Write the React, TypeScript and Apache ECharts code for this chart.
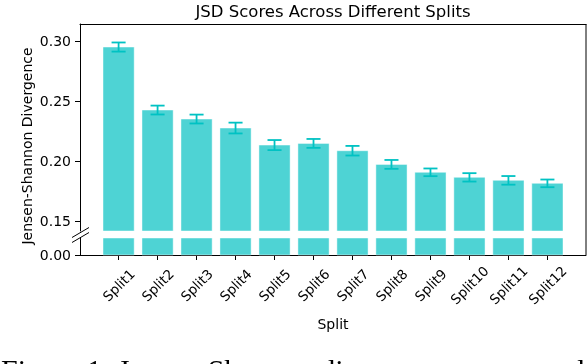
import React, { useEffect, useRef } from "react";
import * as echarts from "echarts";

const categories = ["Split1", "Split2", "Split3", "Split4", "Split5", "Split6", "Split7", "Split8", "Split9", "Split10", "Split11", "Split12"];
const jsdMeans = [0.295, 0.2425, 0.235, 0.2275, 0.2133, 0.2147, 0.2086, 0.1972, 0.1906, 0.1864, 0.1839, 0.1814];
const jsdErrors = [0.0038, 0.0037, 0.0037, 0.0045, 0.0042, 0.0037, 0.004, 0.0037, 0.0032, 0.0035, 0.0036, 0.0032];
const topTicks = [0.15, 0.2, 0.25, 0.3];
const bottomTicks = [0];
const topRange = [0.1417, 0.3142];
const bottomRange = [0, 0.0144];
const xRange = [-0.99, 11.99];

const BAR_FILL = "#4ed3d4";
const BAR_EDGE = "rgba(255,255,255,0.45)";
const ERR_COLOR = "#00c2c3";
const FONT = "DejaVu Sans";

export default function App() {
  const ref = useRef<HTMLDivElement>(null);
  useEffect(() => {
    if (!ref.current) return;
    const chart = echarts.init(ref.current, null, { renderer: "svg" });
    const idx = categories.map((_, i) => i);
    const barData = jsdMeans.map((v, i) => [i, v]);
    const errData = jsdMeans.map((v, i) => [i, v, jsdErrors[i]]);

    const renderBar = (params: any, api: any) => {
      const i = api.value(0);
      const v = api.value(1);
      const p0 = api.coord([i - 0.4, v]);
      const p1 = api.coord([i + 0.4, 0]);
      const cs = params.coordSys;
      const shape = echarts.graphic.clipRectByRect(
        { x: p0[0], y: p0[1], width: p1[0] - p0[0], height: p1[1] - p0[1] },
        { x: cs.x, y: cs.y, width: cs.width, height: cs.height }
      );
      if (!shape) return null;
      return {
        type: "rect",
        shape,
        style: { fill: BAR_FILL, stroke: BAR_EDGE, lineWidth: 1 },
      };
    };

    const renderErr = (params: any, api: any) => {
      const i = api.value(0);
      const v = api.value(1);
      const e = api.value(2);
      const hi = api.coord([i, v + e]);
      const lo = api.coord([i, v - e]);
      const capL = api.coord([i - 0.18, v])[0];
      const capR = api.coord([i + 0.18, v])[0];
      const st = { stroke: ERR_COLOR, lineWidth: 1.8 };
      return {
        type: "group",
        children: [
          { type: "line", shape: { x1: hi[0], y1: hi[1], x2: lo[0], y2: lo[1] }, style: st },
          { type: "line", shape: { x1: capL, y1: hi[1], x2: capR, y2: hi[1] }, style: st },
          { type: "line", shape: { x1: capL, y1: lo[1], x2: capR, y2: lo[1] }, style: st },
        ],
      };
    };

    const axisLine = { show: true, onZero: false, lineStyle: { color: "#000", width: 1 } };
    const labelStyle = { color: "#000", fontFamily: FONT, fontSize: 14 };

    chart.setOption({
      animation: false,
      title: {
        text: "JSD Scores Across Different Splits",
        left: 333,
        top: 3,
        padding: 0,
        textAlign: "center",
        textStyle: { fontFamily: FONT, fontSize: 16.5, fontWeight: "normal", color: "#000" },
      },
      grid: [
        { left: 80, width: 506, top: 24, height: 207, outerBoundsMode: "none", containLabel: false },
        { left: 80, width: 506, top: 238, height: 17, outerBoundsMode: "none", containLabel: false },
      ],
      xAxis: [
        {
          type: "value",
          gridIndex: 0,
          min: xRange[0],
          max: xRange[1],
          position: "top",
          axisLine,
          axisTick: { show: false },
          axisLabel: { show: false },
          splitLine: { show: false },
        },
        {
          type: "value",
          gridIndex: 1,
          min: xRange[0],
          max: xRange[1],
          position: "bottom",
          axisLine,
          axisTick: { show: true, length: 5, customValues: idx, lineStyle: { color: "#000" } },
          axisLabel: {
            customValues: idx,
            formatter: (v: number) => categories[Math.round(v)] ?? "",
            rotate: 45,
            align: "center",
            verticalAlign: "middle",
            margin: 30,
            ...labelStyle,
            fontSize: 13.5,
          },
          splitLine: { show: false },
          name: "Split",
          nameLocation: "middle",
          nameGap: 62,
          nameTextStyle: { ...labelStyle },
        },
      ],
      yAxis: [
        {
          type: "value",
          gridIndex: 0,
          min: topRange[0],
          max: topRange[1],
          axisLine,
          axisTick: { show: true, length: 5, customValues: topTicks, lineStyle: { color: "#000" } },
          axisLabel: {
            customValues: topTicks,
            formatter: (v: number) => v.toFixed(2),
            margin: 9,
            ...labelStyle,
          },
          splitLine: { show: false },
        },
        {
          type: "value",
          gridIndex: 1,
          min: bottomRange[0],
          max: bottomRange[1],
          axisLine,
          axisTick: { show: true, length: 5, customValues: bottomTicks, lineStyle: { color: "#000" } },
          axisLabel: {
            customValues: bottomTicks,
            formatter: (v: number) => v.toFixed(2),
            margin: 9,
            ...labelStyle,
          },
          splitLine: { show: false },
        },
      ],
      series: [
        { type: "custom", xAxisIndex: 0, yAxisIndex: 0, data: barData, renderItem: renderBar, z: 2 },
        { type: "custom", xAxisIndex: 1, yAxisIndex: 1, data: barData, renderItem: renderBar, z: 2 },
        { type: "custom", xAxisIndex: 0, yAxisIndex: 0, data: errData, renderItem: renderErr, z: 3 },
      ],
      graphic: [
        { type: "line", shape: { x1: 586, y1: 24, x2: 586, y2: 255 }, style: { stroke: "#000", lineWidth: 1 }, z: 10 },
        { type: "line", shape: { x1: 72, y1: 237.5, x2: 89, y2: 227.5 }, style: { stroke: "#000", lineWidth: 1 }, z: 10 },
        { type: "line", shape: { x1: 72, y1: 242.5, x2: 89, y2: 232.5 }, style: { stroke: "#000", lineWidth: 1 }, z: 10 },
        {
          type: "text",
          x: 27,
          y: 146,
          rotation: Math.PI / 2,
          style: {
            text: "Jensen-Shannon Divergence",
            fontFamily: FONT,
            fontSize: 14,
            fill: "#000",
            align: "center",
            verticalAlign: "middle",
          },
        },
        {
          type: "text",
          x: 1,
          y: 369,
          style: {
            text: "Figure 1: Jensen-Shannon divergence scores and standard deviations",
            fontFamily: "Liberation Serif",
            fontSize: 30,
            fill: "#000",
            align: "left",
            verticalAlign: "middle",
          },
        },
      ],
    });
    return () => chart.dispose();
  }, []);
  return <div ref={ref} style={{ position: "fixed", left: 0, top: 0, width: 588, height: 364 }} />;
}
